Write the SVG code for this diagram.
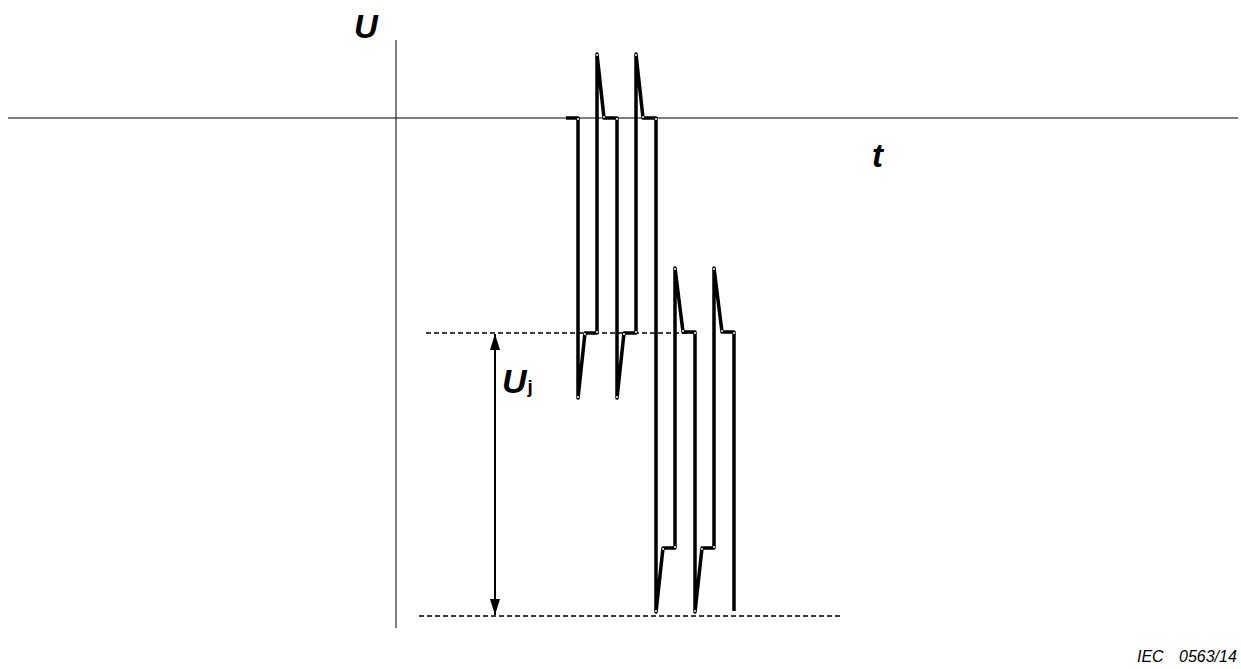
<svg xmlns="http://www.w3.org/2000/svg" width="1241" height="669" viewBox="0 0 1241 669">
<defs>
<style>
.axis{stroke:#000;stroke-width:1;fill:none}
.dash{stroke:#000;stroke-width:1.3;stroke-dasharray:5 3;fill:none}
.wave{stroke:#000;stroke-width:3.5;fill:none;stroke-linejoin:round;stroke-linecap:butt}
.tip{fill:#fff}
.lbl{font-family:"Liberation Sans",Arial,sans-serif;font-weight:bold;font-style:italic;fill:#000}
.note{font-family:"Liberation Sans",Arial,sans-serif;font-style:italic;font-size:16px;fill:#000}
</style>
<marker id="ah" viewBox="0 0 10 10" refX="10" refY="5" markerWidth="16" markerHeight="10" markerUnits="userSpaceOnUse" orient="auto-start-reverse" preserveAspectRatio="none">
<path d="M0,0 L10,5 L0,10 Z" fill="#000"/>
</marker>
</defs>
<rect width="1241" height="669" fill="#fff"/>
<g id="axes">
<line class="axis" x1="8" y1="118" x2="1238" y2="118"/>
<line class="axis" x1="396" y1="40" x2="396" y2="628"/>
</g>
<g id="levels">
<line class="dash" x1="426" y1="333" x2="692" y2="333"/>
<line class="dash" x1="419" y1="616" x2="841" y2="616"/>
</g>
<g id="connectors">
<line x1="495" y1="334" x2="495" y2="615" stroke="#000" stroke-width="2" marker-start="url(#ah)" marker-end="url(#ah)"/>
</g>
<g id="waveform">
<path class="wave" d="M566,118 H578 V398 L585,333 H597 V54 L604,118 H617 V398 L624,333 H636 V54 L643,118 H656 V612 L663,548 H675 V268 L683,332 H695 V612 L702,548 H714 V268 L722,332 H734 V611"/>
<g class="tip">
<circle cx="578" cy="397" r="1"/><circle cx="617" cy="397" r="1"/>
<circle cx="597" cy="55" r="1"/><circle cx="636" cy="55" r="1"/>
<circle cx="656" cy="611" r="1"/><circle cx="695" cy="611" r="1"/>
<circle cx="675" cy="269" r="1"/><circle cx="714" cy="269" r="1"/>
<circle cx="585" cy="334" r="1"/><circle cx="624" cy="334" r="1"/>
<circle cx="604" cy="117" r="1"/><circle cx="643" cy="117" r="1"/>
<circle cx="663" cy="549" r="1"/><circle cx="702" cy="549" r="1"/>
<circle cx="683" cy="331" r="1"/><circle cx="722" cy="331" r="1"/>
<circle cx="578" cy="119" r="1"/><circle cx="617" cy="119" r="1"/><circle cx="656" cy="119" r="1"/>
<circle cx="597" cy="332" r="1"/><circle cx="636" cy="332" r="1"/>
<circle cx="675" cy="547" r="1"/><circle cx="714" cy="547" r="1"/>
<circle cx="695" cy="333" r="1"/><circle cx="734" cy="333" r="1"/>
</g>
</g>
<g id="labels">
<text class="lbl" x="354" y="38" font-size="33">U</text>
<text class="lbl" x="872" y="167" font-size="33">t</text>
<text class="lbl" x="502" y="393" font-size="34">U<tspan font-size="19" font-style="normal" dx="1">j</tspan></text>
<text class="note" x="1137" y="662">IEC</text>
<text class="note" x="1179" y="662">0563/14</text>
</g>
</svg>
